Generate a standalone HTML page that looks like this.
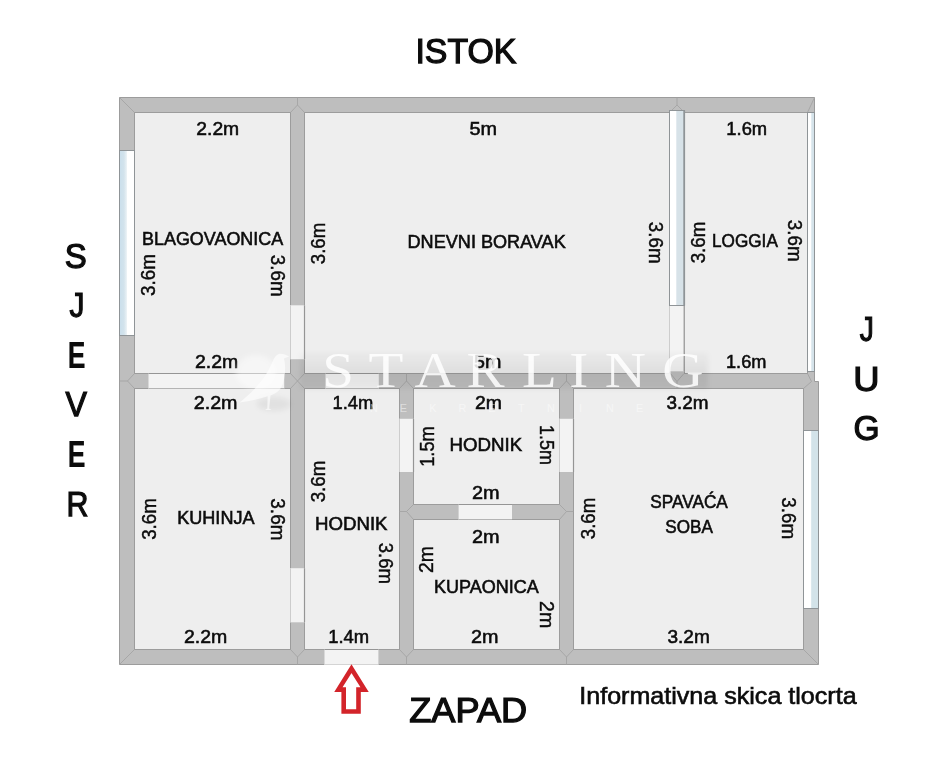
<!DOCTYPE html>
<html lang="hr">
<head>
<meta charset="utf-8">
<title>Informativna skica tlocrta</title>
<style>
html,body{margin:0;padding:0;background:#fff;}
body{width:936px;height:767px;overflow:hidden;}
svg{display:block;}
text{font-family:"Liberation Sans",sans-serif;fill:#0c0c0c;}
.d{font-size:18px;stroke:#0c0c0c;stroke-width:.55px;}
.dv{font-size:19.6px;stroke:#0c0c0c;stroke-width:.42px;}
.r{font-size:17.6px;stroke:#0c0c0c;stroke-width:.55px;}
.big{font-size:34.8px;stroke:#0c0c0c;stroke-width:1.25px;}
.bigb{font-size:36px;font-weight:bold;stroke:#0c0c0c;stroke-width:.2px;}
.note{font-size:24px;stroke:#0c0c0c;stroke-width:.62px;}
.wm{font-family:"Liberation Serif",serif;font-size:51px;fill:#fff;fill-opacity:.85;stroke:none;}
.wm2{font-size:10.8px;fill:#fff;fill-opacity:.5;stroke:none;}
</style>
</head>
<body>
<svg width="936" height="767" viewBox="0 0 936 767">
<defs>
<linearGradient id="band" x1="0" y1="0" x2="0" y2="1">
<stop offset="0" stop-color="#000" stop-opacity=".02"/>
<stop offset=".55" stop-color="#000" stop-opacity=".065"/>
<stop offset="1" stop-color="#000" stop-opacity=".05"/>
</linearGradient>
<filter id="soft" x="200" y="330" width="560" height="100" filterUnits="userSpaceOnUse"><feGaussianBlur stdDeviation="2.5"/></filter>
<linearGradient id="glassL" x1="0" y1="0" x2="1" y2="0">
<stop offset="0" stop-color="#cadfec"/>
<stop offset=".6" stop-color="#d3e3ec"/>
<stop offset="1" stop-color="#eef4f7"/>
</linearGradient>
<filter id="gs" x="0" y="0" width="936" height="767" filterUnits="userSpaceOnUse" color-interpolation-filters="sRGB"><feColorMatrix type="saturate" values="0"/></filter>
</defs>
<rect width="936" height="767" fill="#fff"/>

<path d="M119.5 97.5H814.5V381.5H818.5V664.5H119.5Z" fill="#bebebe" stroke="#9c9c9c" stroke-width="1"/>
<rect x="134.5" y="112.5" width="156.00" height="261.00" fill="#eeeeee" stroke="#9c9c9c" stroke-width="1"/>
<rect x="304.5" y="112.5" width="365.00" height="261.00" fill="#eeeeee" stroke="#9c9c9c" stroke-width="1"/>
<rect x="684.5" y="112.5" width="123.00" height="261.00" fill="#eeeeee" stroke="#9c9c9c" stroke-width="1"/>
<rect x="134.5" y="388.5" width="156.00" height="261.00" fill="#eeeeee" stroke="#9c9c9c" stroke-width="1"/>
<rect x="304.5" y="388.5" width="95.00" height="261.00" fill="#eeeeee" stroke="#9c9c9c" stroke-width="1"/>
<rect x="413.5" y="388.5" width="146.00" height="116.00" fill="#eeeeee" stroke="#9c9c9c" stroke-width="1"/>
<rect x="413.5" y="519.5" width="146.00" height="130.00" fill="#eeeeee" stroke="#9c9c9c" stroke-width="1"/>
<rect x="573.5" y="388.5" width="230.00" height="261.00" fill="#eeeeee" stroke="#9c9c9c" stroke-width="1"/>
<path d="M119.5 97.5L134.5 112.5 M119.5 664.5L134.5 649.5 M818.5 664.5L803.5 649.5 M814.5 97.5L807.5 112.5 M290.5 112.5L297.5 105L304.5 112.5M297.5 105V97.5 M669.5 112.5L677.0 105L684.5 112.5M677.0 105V97.5 M290.5 649.5L297.5 657L304.5 649.5M297.5 657V664.5 M399.5 649.5L406.5 657L413.5 649.5M406.5 657V664.5 M559.5 649.5L566.5 657L573.5 649.5M566.5 657V664.5 M134.5 373.5L127.5 381L134.5 388.5M127.5 381H119.5 M290.5 373.5L304.5 388.5M304.5 373.5L290.5 388.5 M399.5 388.5L406.5 381L413.5 388.5M406.5 381V373.5 M559.5 388.5L566.5 381L573.5 388.5M566.5 381V373.5 M670.5 373.5L677 381.5L684 373.5M677 381.5V388.5 M413.5 504.5L406.5 511.5L413.5 519.5M406.5 511.5H399.5 M559.5 504.5L566.5 511.5L559.5 519.5M566.5 511.5H573.5 M807.5 373.5L811.5 381.5M803.5 388.5L811.5 381.5" fill="none" stroke="#a4a4a4" stroke-width=".9"/>
<rect x="290.0" y="305.3" width="15.00" height="53.90" fill="#f3f3f3"/>
<path d="M290.5 305.3V359.2" stroke="#cdcdcd" stroke-width="1"/>
<path d="M304.5 305.3V359.2" stroke="#959595" stroke-width="1.2"/>
<rect x="290.0" y="568.2" width="15.00" height="54.10" fill="#f3f3f3"/>
<path d="M290.5 568.2V622.3" stroke="#cdcdcd" stroke-width="1"/>
<path d="M304.5 568.2V622.3" stroke="#959595" stroke-width="1.2"/>
<rect x="399.0" y="418.8" width="15.00" height="53.20" fill="#f3f3f3"/>
<path d="M399.5 418.8V472" stroke="#cdcdcd" stroke-width="1"/>
<path d="M413.5 418.8V472" stroke="#959595" stroke-width="1.2"/>
<rect x="559.0" y="418.8" width="15.00" height="53.20" fill="#f3f3f3"/>
<path d="M559.5 418.8V472" stroke="#cdcdcd" stroke-width="1"/>
<path d="M573.5 418.8V472" stroke="#959595" stroke-width="1.2"/>
<rect x="669.0" y="305.5" width="15.70" height="65.80" fill="#f3f3f3"/>
<path d="M669.5 305.5V371.3" stroke="#cdcdcd" stroke-width="1"/>
<path d="M684.2 305.5V371.3" stroke="#959595" stroke-width="1.2"/>
<rect x="148.5" y="373.0" width="135.70" height="16.00" fill="#f3f3f3"/>
<path d="M148.5 373.5H284.2" stroke="#959595" stroke-width="1"/>
<path d="M148.5 388.5H284.2" stroke="#b4b4b4" stroke-width="1"/>
<rect x="325.5" y="373.0" width="53.30" height="16.00" fill="#f3f3f3"/>
<path d="M325.5 373.5H378.8" stroke="#959595" stroke-width="1"/>
<path d="M325.5 388.5H378.8" stroke="#b4b4b4" stroke-width="1"/>
<rect x="458.6" y="504.0" width="53.40" height="16.00" fill="#f3f3f3"/>
<path d="M458.6 504.5H512" stroke="#959595" stroke-width="1"/>
<path d="M458.6 519.5H512" stroke="#b4b4b4" stroke-width="1"/>
<rect x="324.5" y="649.0" width="53.90" height="16.00" fill="#f3f3f3"/>
<path d="M324.5 649.5H378.4" stroke="#959595" stroke-width="1"/>
<path d="M324.5 664.5H378.4" stroke="#d4d4d4" stroke-width="1"/>
<rect x="119.5" y="150.5" width="15.00" height="185.00" fill="#fff"/>
<rect x="119.5" y="150.5" width="7.50" height="185.00" fill="url(#glassL)"/>
<rect x="119.5" y="150.5" width="15.00" height="185.00" fill="none" stroke="#8f9497" stroke-width="1"/>
<rect x="669.5" y="110.5" width="15.00" height="195.00" fill="#fff"/>
<rect x="676.3" y="110.5" width="8.20" height="195.00" fill="#d7e2e8"/>
<rect x="669.5" y="110.5" width="15.00" height="195.00" fill="none" stroke="#8f9497" stroke-width="1"/>
<path d="M684.2 110.5V305.5" stroke="#8f9497" stroke-width="1.8"/>
<rect x="807.5" y="112.5" width="7.00" height="259.00" fill="#fff"/>
<rect x="811.3" y="112.5" width="3.20" height="259.00" fill="#d5e3ea"/>
<rect x="807.5" y="112.5" width="7.00" height="259.00" fill="none" stroke="#8f9497" stroke-width="1"/>
<rect x="803.5" y="430.5" width="15.00" height="178.00" fill="#fff"/>
<rect x="811.2" y="430.5" width="7.30" height="178.00" fill="#d3e3e9"/>
<rect x="803.5" y="430.5" width="15.00" height="178.00" fill="none" stroke="#8f9497" stroke-width="1"/>
<g filter="url(#gs)">
<text class="big" x="465.90" y="63.30" text-anchor="middle" textLength="101.00" lengthAdjust="spacingAndGlyphs">ISTOK</text>
<text class="big" x="468.21" y="722.42" text-anchor="middle" textLength="117.92" lengthAdjust="spacingAndGlyphs">ZAPAD</text>
<text class="note" x="717.94" y="703.70" text-anchor="middle" textLength="277.36" lengthAdjust="spacingAndGlyphs">Informativna skica tlocrta</text>
<text class="big" x="75.82" y="267.94" text-anchor="middle" textLength="22.00" lengthAdjust="spacingAndGlyphs">S</text>
<text class="big" x="76.92" y="316.96" text-anchor="middle" textLength="14.92" lengthAdjust="spacingAndGlyphs">J</text>
<text class="bigb" x="76.72" y="367.78" text-anchor="middle" textLength="17.72" lengthAdjust="spacingAndGlyphs">E</text>
<text class="big" x="76.31" y="416.30" text-anchor="middle" textLength="21.42" lengthAdjust="spacingAndGlyphs">V</text>
<text class="bigb" x="76.72" y="466.70" text-anchor="middle" textLength="17.72" lengthAdjust="spacingAndGlyphs">E</text>
<text class="big" x="77.42" y="515.62" text-anchor="middle" textLength="21.92" lengthAdjust="spacingAndGlyphs">R</text>
<text class="big" x="866.75" y="341.26" text-anchor="middle" textLength="14.10" lengthAdjust="spacingAndGlyphs">J</text>
<text class="big" x="866.45" y="390.76" text-anchor="middle" textLength="26.30" lengthAdjust="spacingAndGlyphs">U</text>
<text class="big" x="866.65" y="440.30" text-anchor="middle" textLength="26.10" lengthAdjust="spacingAndGlyphs">G</text>
<text class="d" x="217.75" y="134.78" text-anchor="middle" textLength="42.96" lengthAdjust="spacingAndGlyphs">2.2m</text>
<text class="d" x="483.22" y="134.78" text-anchor="middle" textLength="27.56" lengthAdjust="spacingAndGlyphs">5m</text>
<text class="d" x="746.77" y="134.78" text-anchor="middle" textLength="40.81" lengthAdjust="spacingAndGlyphs">1.6m</text>
<text class="d" x="216.64" y="367.70" text-anchor="middle" textLength="43.28" lengthAdjust="spacingAndGlyphs">2.2m</text>
<text class="d" x="487.71" y="367.70" text-anchor="middle" textLength="27.38" lengthAdjust="spacingAndGlyphs">5m</text>
<text class="d" x="746.23" y="367.70" text-anchor="middle" textLength="40.46" lengthAdjust="spacingAndGlyphs">1.6m</text>
<text class="d" x="215.63" y="409.02" text-anchor="middle" textLength="43.81" lengthAdjust="spacingAndGlyphs">2.2m</text>
<text class="d" x="352.97" y="409.02" text-anchor="middle" textLength="40.83" lengthAdjust="spacingAndGlyphs">1.4m</text>
<text class="d" x="488.46" y="409.02" text-anchor="middle" textLength="26.92" lengthAdjust="spacingAndGlyphs">2m</text>
<text class="d" x="687.45" y="409.02" text-anchor="middle" textLength="42.02" lengthAdjust="spacingAndGlyphs">3.2m</text>
<text class="d" x="485.82" y="499.34" text-anchor="middle" textLength="27.64" lengthAdjust="spacingAndGlyphs">2m</text>
<text class="d" x="485.82" y="542.78" text-anchor="middle" textLength="27.64" lengthAdjust="spacingAndGlyphs">2m</text>
<text class="d" x="205.68" y="643.34" text-anchor="middle" textLength="43.36" lengthAdjust="spacingAndGlyphs">2.2m</text>
<text class="d" x="348.73" y="643.34" text-anchor="middle" textLength="40.93" lengthAdjust="spacingAndGlyphs">1.4m</text>
<text class="d" x="484.64" y="643.34" text-anchor="middle" textLength="27.48" lengthAdjust="spacingAndGlyphs">2m</text>
<text class="d" x="688.63" y="643.34" text-anchor="middle" textLength="42.38" lengthAdjust="spacingAndGlyphs">3.2m</text>
<text class="r" x="212.60" y="245.46" text-anchor="middle" textLength="141.20" lengthAdjust="spacingAndGlyphs">BLAGOVAONICA</text>
<text class="r" x="486.65" y="247.66" text-anchor="middle" textLength="158.20" lengthAdjust="spacingAndGlyphs">DNEVNI BORAVAK</text>
<text class="r" x="744.93" y="247.46" text-anchor="middle" textLength="65.85" lengthAdjust="spacingAndGlyphs">LOGGIA</text>
<text class="r" x="215.88" y="524.18" text-anchor="middle" textLength="77.35" lengthAdjust="spacingAndGlyphs">KUHINJA</text>
<text class="r" x="351.28" y="530.46" text-anchor="middle" textLength="72.56" lengthAdjust="spacingAndGlyphs">HODNIK</text>
<text class="r" x="485.87" y="450.54" text-anchor="middle" textLength="72.65" lengthAdjust="spacingAndGlyphs">HODNIK</text>
<text class="r" x="486.37" y="592.66" text-anchor="middle" textLength="104.75" lengthAdjust="spacingAndGlyphs">KUPAONICA</text>
<text class="r" x="689.10" y="507.66" text-anchor="middle" textLength="77.50" lengthAdjust="spacingAndGlyphs">SPAVAĆA</text>
<text class="r" x="689.10" y="532.70" text-anchor="middle" textLength="47.50" lengthAdjust="spacingAndGlyphs">SOBA</text>
<text class="dv" transform="translate(154.78 275.08) rotate(-90)" text-anchor="middle" textLength="41.86" lengthAdjust="spacingAndGlyphs">3.6m</text>
<text class="dv" transform="translate(324.66 243.53) rotate(-90)" text-anchor="middle" textLength="41.39" lengthAdjust="spacingAndGlyphs">3.6m</text>
<text class="dv" transform="translate(705.02 242.51) rotate(-90)" text-anchor="middle" textLength="41.74" lengthAdjust="spacingAndGlyphs">3.6m</text>
<text class="dv" transform="translate(155.50 519.02) rotate(-90)" text-anchor="middle" textLength="41.56" lengthAdjust="spacingAndGlyphs">3.6m</text>
<text class="dv" transform="translate(324.66 481.51) rotate(-90)" text-anchor="middle" textLength="41.74" lengthAdjust="spacingAndGlyphs">3.6m</text>
<text class="dv" transform="translate(595.02 518.52) rotate(-90)" text-anchor="middle" textLength="41.39" lengthAdjust="spacingAndGlyphs">3.6m</text>
<text class="dv" transform="translate(433.70 446.54) rotate(-90)" text-anchor="middle" textLength="40.49" lengthAdjust="spacingAndGlyphs">1.5m</text>
<text class="dv" transform="translate(432.66 559.50) rotate(-90)" text-anchor="middle" textLength="26.92" lengthAdjust="spacingAndGlyphs">2m</text>
<text class="dv" transform="translate(271.34 275.65) rotate(90)" text-anchor="middle" textLength="41.82" lengthAdjust="spacingAndGlyphs">3.6m</text>
<text class="dv" transform="translate(649.30 242.65) rotate(90)" text-anchor="middle" textLength="41.82" lengthAdjust="spacingAndGlyphs">3.6m</text>
<text class="dv" transform="translate(787.78 240.65) rotate(90)" text-anchor="middle" textLength="41.82" lengthAdjust="spacingAndGlyphs">3.6m</text>
<text class="dv" transform="translate(271.18 519.40) rotate(90)" text-anchor="middle" textLength="42.28" lengthAdjust="spacingAndGlyphs">3.6m</text>
<text class="dv" transform="translate(378.66 563.32) rotate(90)" text-anchor="middle" textLength="41.20" lengthAdjust="spacingAndGlyphs">3.6m</text>
<text class="dv" transform="translate(782.30 518.15) rotate(90)" text-anchor="middle" textLength="41.92" lengthAdjust="spacingAndGlyphs">3.6m</text>
<text class="dv" transform="translate(540.30 444.96) rotate(90)" text-anchor="middle" textLength="39.92" lengthAdjust="spacingAndGlyphs">1.5m</text>
<text class="dv" transform="translate(540.34 614.63) rotate(90)" text-anchor="middle" textLength="27.10" lengthAdjust="spacingAndGlyphs">2m</text>
</g>
<g filter="url(#soft)">
<rect x="300" y="353" width="408" height="36" fill="url(#band)"/>
<ellipse cx="256" cy="372" rx="20" ry="17" fill="#fff" fill-opacity=".45"/>
<ellipse cx="274" cy="404" rx="17" ry="7" fill="#000" fill-opacity=".055"/>
</g>
<path d="M279.6 353.8C283 353.5 286 355 289.2 356.5L283.9 358.6C285.5 364 285.3 370 284.7 374C284.2 381 282.5 386.500 279.6 389.8C277 392.500 273.5 394.500 270.5 395.500L269.2 408.6L271.500 410H265L267.3 408.6L267.6 396.300C259 399 250 401 239.500 402.6C248 396 256 388 263 379C268 372 271 365 273.500 359.500C274.8 356.500 277 354.500 279.6 353.8Z" fill="#fff" fill-opacity=".62"/>
<text class="wm" transform="scale(1.12 1)" x="287.7 329 370 416.5 466 508.2 540 591.3" y="387.3">STARLING</text>
<text class="wm2" text-anchor="middle" x="373.8 403.3 432.8 462.4 491.9 521.4 550.9 580.4 610.0 639.5" y="412">NEKRETNINE</text>
<path d="M351.5 668.7L364.6 689.6H358.5V711.5H343.7V689.6H338.4Z" fill="#fff" stroke="#d3242a" stroke-width="4.6" stroke-linejoin="miter"/>
</svg>
</body>
</html>
